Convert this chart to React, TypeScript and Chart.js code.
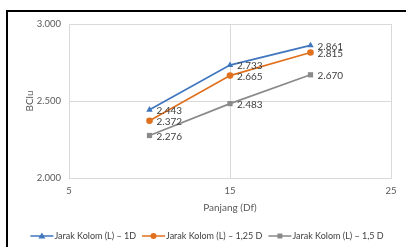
import React, { useEffect, useRef } from "react";
import { Chart, registerables } from "chart.js";

Chart.register(...registerables);

const xValues = [10, 15, 20];
const seriesNames = ["Jarak Kolom (L) – 1D", "Jarak Kolom (L) – 1,25 D", "Jarak Kolom (L) – 1,5 D"];
const series1D = [2.443, 2.733, 2.861];
const series125D = [2.372, 2.665, 2.815];
const series15D = [2.276, 2.483, 2.67];
const seriesColors = ["#3F76BE", "#E0701E", "#8A8A8A"];
const seriesMarkers = ["triangle", "circle", "rect"];
const xTitle = "Panjang (Df)";
const yTitle = "BClu";

const FONT = "Lato, 'Open Sans', sans-serif";

const labelPlugin = {
  id: "dataLabels",
  afterDatasetsDraw(chart: any) {
    const ctx = chart.ctx;
    ctx.save();
    ctx.font = `10px ${FONT}`;
    ctx.fillStyle = "#404040";
    ctx.textAlign = "left";
    ctx.textBaseline = "middle";
    chart.data.datasets.forEach((ds: any, i: number) => {
      const meta = chart.getDatasetMeta(i);
      meta.data.forEach((pt: any, j: number) => {
        const v = ds.data[j].y;
        ctx.fillText(v.toFixed(3), pt.x + 7, pt.y + 1);
      });
    });
    ctx.restore();
  },
};

const framePlugin = {
  id: "frame",
  afterDraw(chart: any) {
    const ctx = chart.ctx;
    ctx.save();
    ctx.fillStyle = "#000";
    ctx.fillRect(6, 10, 2, chart.height - 10);
    ctx.fillRect(6, 10, chart.width - 6, 2);
    ctx.font = `9px ${FONT}`;
    ctx.textBaseline = "middle";
    const y = 236;
    const lineLen = 23;
    const gap = 6;
    const widths = seriesNames.map((n) => lineLen + 1 + ctx.measureText(n).width);
    const total = widths.reduce((a, b) => a + b, 0) + gap * (widths.length - 1);
    let x = (chart.width + 8) / 2 - total / 2;
    seriesNames.forEach((name, i) => {
      const c = seriesColors[i];
      ctx.strokeStyle = c;
      ctx.fillStyle = c;
      ctx.lineWidth = 1.5;
      ctx.beginPath();
      ctx.moveTo(x, y);
      ctx.lineTo(x + lineLen, y);
      ctx.stroke();
      const cx = x + lineLen / 2;
      ctx.beginPath();
      if (seriesMarkers[i] === "triangle") {
        ctx.moveTo(cx, y - 3.5);
        ctx.lineTo(cx + 3.5, y + 2.5);
        ctx.lineTo(cx - 3.5, y + 2.5);
        ctx.closePath();
      } else if (seriesMarkers[i] === "circle") {
        ctx.arc(cx, y, 3, 0, Math.PI * 2);
      } else {
        ctx.rect(cx - 2.5, y - 2.5, 5, 5);
      }
      ctx.fill();
      ctx.fillStyle = "#404040";
      ctx.textAlign = "left";
      ctx.fillText(name, x + lineLen + 1, y + 0.5);
      x += widths[i] + gap;
    });
    ctx.restore();
  },
};

export default function App() {
  const ref = useRef<HTMLCanvasElement>(null);
  useEffect(() => {
    if (!ref.current) return;
    const all = [series1D, series125D, series15D];
    const chart = new Chart(ref.current, {
      type: "line",
      data: {
        datasets: all.map((vals, i) => ({
          label: seriesNames[i],
          data: xValues.map((x, j) => ({ x, y: vals[j] })),
          borderColor: seriesColors[i],
          backgroundColor: seriesColors[i],
          borderWidth: 1.7,
          pointStyle: seriesMarkers[i] as any,
          pointRadius: seriesMarkers[i] === "circle" ? 3.3 : 3.7,
          pointBorderWidth: 0,
          tension: 0,
        })),
      },
      options: {
        responsive: false,
        animation: false,
        devicePixelRatio: 1,
        layout: { padding: { left: 0, right: 15, top: 24, bottom: 33 } },
        plugins: { legend: { display: false }, tooltip: { enabled: false } },
        scales: {
          x: {
            type: "linear",
            min: 5,
            max: 25,
            ticks: { stepSize: 10, padding: 7, color: "#595959", font: { family: FONT, size: 9.5 } },
            grid: { color: "#D9D9D9", drawTicks: false },
            border: { color: "#D9D9D9" },
            title: { display: true, text: xTitle, color: "#595959", font: { family: FONT, size: 10 }, padding: { top: 0, bottom: 0 } },
            afterFit: (s: any) => { s.height = 36; },
          },
          y: {
            min: 2,
            max: 3,
            ticks: {
              stepSize: 0.5,
              padding: 8,
              color: "#595959",
              font: { family: FONT, size: 9.5 },
              callback: (v: any) => Number(v).toFixed(3),
            },
            grid: { color: "#D9D9D9", drawTicks: false },
            border: { color: "#D9D9D9" },
            title: { display: true, text: yTitle, color: "#595959", font: { family: FONT, size: 10 }, padding: { top: 24, bottom: 0 } },
            afterFit: (s: any) => { s.width = 69; },
          },
        },
      },
      plugins: [labelPlugin, framePlugin],
    });
    return () => chart.destroy();
  }, []);
  return (
    <div style={{ position: "fixed", left: 0, top: 0, width: 406, height: 247, background: "#fff" }}>
      <canvas ref={ref} width={406} height={247} style={{ width: 406, height: 247, display: "block" }} />
    </div>
  );
}
